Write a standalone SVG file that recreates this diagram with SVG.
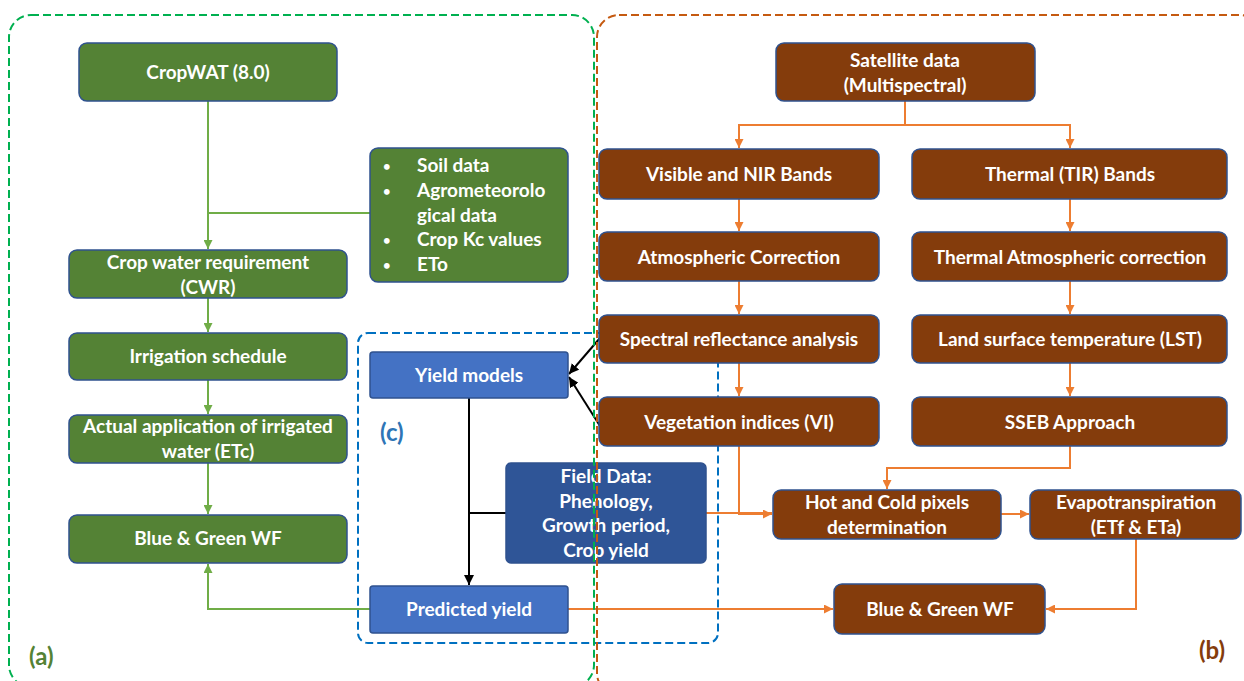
<svg xmlns="http://www.w3.org/2000/svg" width="1244" height="681" viewBox="0 0 1244 681">
<defs>
<style>
.g{fill:#548235;stroke:#2F528F;stroke-width:1.5}
.br{fill:#843C0C;stroke:#2F528F;stroke-width:1.5}
.bl{fill:#4472C4;stroke:#2F528F;stroke-width:1.5}
.bd{fill:#2F5597;stroke:#2F528F;stroke-width:1.5}
text{font-family:Lato,"Open Sans","Liberation Sans",sans-serif;font-weight:bold;font-size:19px;fill:#fff}
.c{text-anchor:middle}
.dot{font-size:13px}
.cg{fill:none;stroke:#70AD47;stroke-width:2}
.co{fill:none;stroke:#ED7D31;stroke-width:2}
.ck{fill:none;stroke:#000;stroke-width:2}
</style>
<marker id="ag" viewBox="0 0 10 10" refX="10" refY="5" markerWidth="9" markerHeight="9" markerUnits="userSpaceOnUse" orient="auto"><path d="M0,0L10,5L0,10z" fill="#70AD47"/></marker>
<marker id="ao" viewBox="0 0 10 10" refX="10" refY="5" markerWidth="9" markerHeight="9" markerUnits="userSpaceOnUse" orient="auto"><path d="M0,0L10,5L0,10z" fill="#ED7D31"/></marker>
<marker id="ak" viewBox="0 0 10 10" refX="10" refY="5" markerWidth="10" markerHeight="10" markerUnits="userSpaceOnUse" orient="auto"><path d="M0,0L10,5L0,10z" fill="#000"/></marker>
</defs>
<rect width="1244" height="681" fill="#fff"/>
<g id="frame-c"><rect x="358" y="333" width="360" height="310" rx="10" fill="none" stroke="#0070C0" stroke-width="2" stroke-dasharray="8,4"/></g>
<g id="connectors">
<path class="cg" d="M208,101V249" marker-end="url(#ag)"/>
<path class="cg" d="M370,213H208"/>
<path class="cg" d="M208,298V332" marker-end="url(#ag)"/>
<path class="cg" d="M208,380V414" marker-end="url(#ag)"/>
<path class="cg" d="M208,463V514" marker-end="url(#ag)"/>
<path class="cg" d="M370,609H208V564" marker-end="url(#ag)"/>
<path class="ck" d="M469,398V585" marker-end="url(#ak)"/>
<path class="ck" d="M506,513H469"/>
<path class="ck" d="M600,338L569,374" marker-end="url(#ak)"/>
<path class="ck" d="M600,426L569,377" marker-end="url(#ak)"/>
<path class="co" d="M905,101V125H739V148" marker-end="url(#ao)"/>
<path class="co" d="M905,125H1070V148" marker-end="url(#ao)"/>
<path class="co" d="M739,199V231" marker-end="url(#ao)"/>
<path class="co" d="M739,281V314" marker-end="url(#ao)"/>
<path class="co" d="M739,363V396" marker-end="url(#ao)"/>
<path class="co" d="M1070,199V231" marker-end="url(#ao)"/>
<path class="co" d="M1070,281V314" marker-end="url(#ao)"/>
<path class="co" d="M1070,363V396" marker-end="url(#ao)"/>
<path class="co" d="M739,446V514H772" marker-end="url(#ao)"/>
<path class="co" d="M706,513H772"/>
<path class="co" d="M1070,446V468H887V489" marker-end="url(#ao)"/>
<path class="co" d="M1001,514H1029" marker-end="url(#ao)"/>
<path class="co" d="M1136,539V609H1046" marker-end="url(#ao)"/>
<path class="co" d="M568,609H833" marker-end="url(#ao)"/>
</g>
<g id="cropwat"><rect class="g" x="79" y="43" width="258" height="58" rx="8"/><text class="c" x="208" y="79">CropWAT (8.0)</text></g>
<g id="inputs"><rect class="g" x="370" y="148" width="198" height="134" rx="8"/>
<text class="dot" x="383" y="171">•</text><text x="417" y="172">Soil data</text>
<text class="dot" x="383" y="196">•</text><text x="417" y="197">Agrometeorolo</text>
<text x="417" y="222">gical data</text>
<text class="dot" x="383" y="245">•</text><text x="417" y="246">Crop Kc values</text>
<text class="dot" x="383" y="270">•</text><text x="417" y="271">ETo</text></g>
<g id="cwr"><rect class="g" x="69" y="250" width="278" height="48" rx="8"/><text class="c" x="208" y="269">Crop water requirement</text><text class="c" x="208" y="294">(CWR)</text></g>
<g id="irrigation"><rect class="g" x="69" y="333" width="278" height="47" rx="8"/><text class="c" x="208" y="363">Irrigation schedule</text></g>
<g id="actual"><rect class="g" x="69" y="415" width="278" height="48" rx="8"/><text class="c" x="208" y="433">Actual application of irrigated</text><text class="c" x="208" y="458">water (ETc)</text></g>
<g id="bgwf-a"><rect class="g" x="69" y="515" width="278" height="48" rx="8"/><text class="c" x="208" y="545">Blue &amp; Green WF</text></g>
<g id="yield-models"><rect class="bl" x="370" y="352" width="198" height="46" rx="3"/><text class="c" x="469" y="382">Yield models</text></g>
<g id="field-data"><rect class="bd" x="506" y="463" width="200" height="100" rx="5"/><text class="c" x="606" y="483">Field Data:</text><text class="c" x="606" y="508">Phenology,</text><text class="c" x="606" y="532">Growth period,</text><text class="c" x="606" y="557">Crop yield</text></g>
<g id="predicted"><rect class="bl" x="370" y="586" width="198" height="47" rx="3"/><text class="c" x="469" y="616">Predicted yield</text></g>
<g id="satellite"><rect class="br" x="776" y="43" width="259" height="58" rx="8"/><text class="c" x="905" y="67">Satellite data</text><text class="c" x="905" y="92">(Multispectral)</text></g>
<g id="visnir"><rect class="br" x="599" y="149" width="280" height="50" rx="8"/><text class="c" x="739" y="181">Visible and NIR Bands</text></g>
<g id="tir"><rect class="br" x="912" y="149" width="315" height="50" rx="8"/><text class="c" x="1070" y="181">Thermal (TIR) Bands</text></g>
<g id="atmcorr"><rect class="br" x="599" y="232" width="280" height="49" rx="8"/><text class="c" x="739" y="264">Atmospheric Correction</text></g>
<g id="thatm"><rect class="br" x="912" y="232" width="315" height="49" rx="8"/><text class="c" x="1070" y="264">Thermal Atmospheric correction</text></g>
<g id="spectral"><rect class="br" x="599" y="315" width="280" height="48" rx="8"/><text class="c" x="739" y="346">Spectral reflectance analysis</text></g>
<g id="lst"><rect class="br" x="912" y="315" width="315" height="48" rx="8"/><text class="c" x="1070" y="346">Land surface temperature (LST)</text></g>
<g id="vi"><rect class="br" x="599" y="397" width="280" height="49" rx="8"/><text class="c" x="739" y="429">Vegetation indices (VI)</text></g>
<g id="sseb"><rect class="br" x="912" y="397" width="315" height="49" rx="8"/><text class="c" x="1070" y="429">SSEB Approach</text></g>
<g id="hotcold"><rect class="br" x="773" y="490" width="228" height="49" rx="8"/><text class="c" x="887" y="509">Hot and Cold pixels</text><text class="c" x="887" y="534">determination</text></g>
<g id="et"><rect class="br" x="1030" y="490" width="211" height="49" rx="8"/><text class="c" x="1136" y="509">Evapotranspiration</text><text class="c" x="1136" y="534">(ETf &amp; ETa)</text></g>
<g id="bgwf-b"><rect class="br" x="834" y="584" width="211" height="50" rx="8"/><text class="c" x="940" y="616">Blue &amp; Green WF</text></g>
<g id="frames">
<rect x="9" y="15" width="585" height="672" rx="22" fill="none" stroke="#00B050" stroke-width="2" stroke-dasharray="8,4"/>
<rect x="597" y="15" width="665" height="680" rx="22" fill="none" stroke="#C55A11" stroke-width="2" stroke-dasharray="8,4"/>
<text x="29" y="665" style="font-size:24px;fill:#548235">(a)</text>
<text x="1199" y="659" style="font-size:24px;fill:#843C0C">(b)</text>
<text x="380" y="441" style="font-size:24px;fill:#2E75B6">(c)</text>
</g>
</svg>
